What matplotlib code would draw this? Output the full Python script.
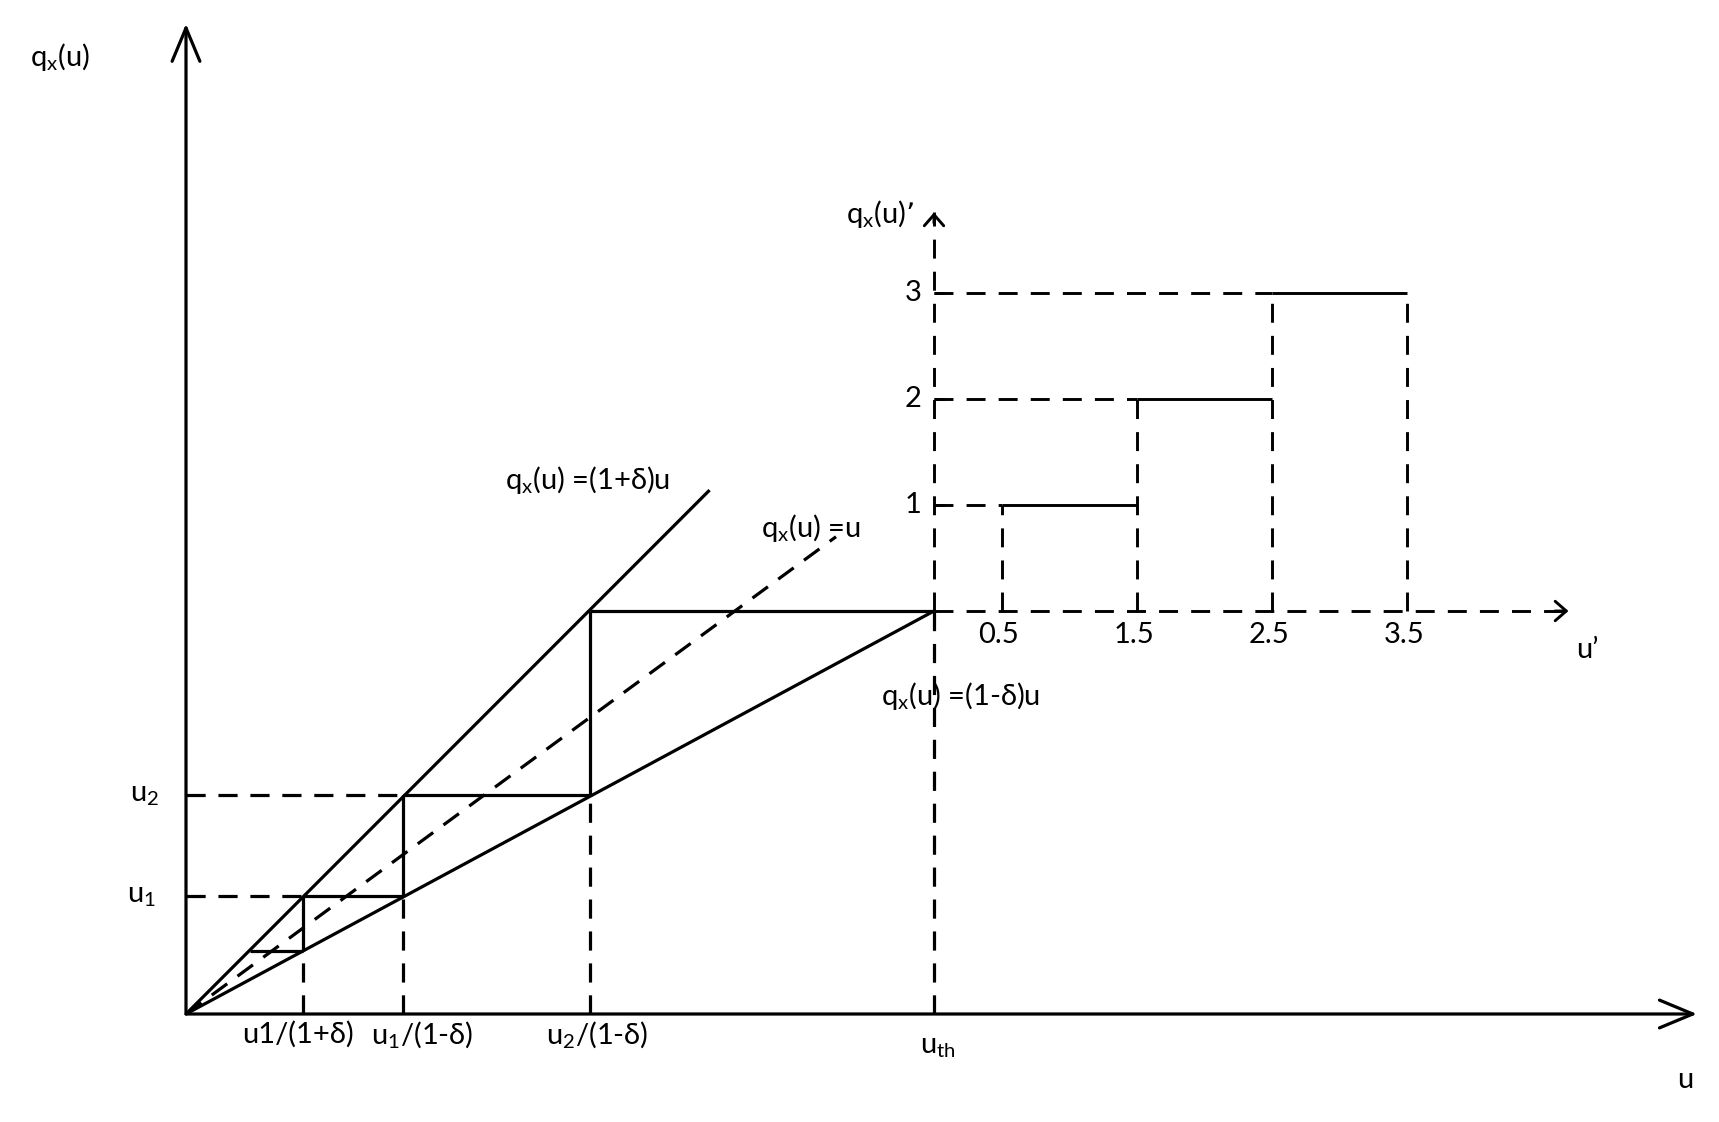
import matplotlib.pyplot as plt
from matplotlib.transforms import Affine2D

plt.rcParams['font.family'] = ['Lato', 'DejaVu Sans']
plt.rcParams['mathtext.default'] = 'regular'

# main diagram values (u on x, q_x(u) on y)
u_th = 1.0
q_top = 0.70
u_levels = [0.11, 0.205, 0.38, 0.70]          # horizontal stair levels
x_upper = [0.085, 0.157, 0.29, 0.54]          # where each level meets (1+d)u
x_lower = [0.157, 0.29, 0.54, 1.0]            # where each level meets (1-d)u
upper_end = (0.70, 0.91)
ident_end = (0.869, 0.829)
axis_end = (2.02, 1.72)

# inset step function q_x(u)'
step_lo = [0.5, 1.5, 2.5]
step_hi = [1.5, 2.5, 3.5]
step_val = [1, 2, 3]
inset_ticks = ['0.5', '1.5', '2.5', '3.5']
inset_tick_pos = [0.5, 1.5, 2.5, 3.5]
inset_axis_end = (4.70, 3.76)

fig = plt.figure(figsize=(17.19, 11.22), dpi=100)
ax = fig.add_axes([0, 0, 1, 1])
ax.set_xlim(-186 / 748, (1719 - 186) / 748)
ax.set_ylim(-(1122 - 1014) / 575.7, 1014 / 575.7)
ax.axis('off')

lw = 2.3
dash = (0, (6, 4))
solid = dict(color='black', lw=lw, solid_capstyle='butt')
dashed = dict(color='black', lw=lw, linestyle=dash)
fs = 21

# main axes with open arrow heads
head = '->,head_length=24,head_width=10'
ax.annotate('', xy=(axis_end[0], 0), xytext=(0, 0),
            arrowprops=dict(arrowstyle=head, lw=lw, color='black',
                            mutation_scale=1, shrinkA=0, shrinkB=0))
ax.annotate('', xy=(0, axis_end[1]), xytext=(0, 0),
            arrowprops=dict(arrowstyle=head, lw=lw, color='black',
                            mutation_scale=1, shrinkA=0, shrinkB=0))

# bounding lines
ax.plot([0, upper_end[0]], [0, upper_end[1]], **solid)
ax.plot([0, u_th], [0, q_top], **solid)
ax.plot([0, ident_end[0]], [0, ident_end[1]], **dashed)

# staircase between the two lines
for i, q in enumerate(u_levels):
    ax.plot([x_upper[i], x_lower[i]], [q, q], **solid)
    if i > 0:
        ax.plot([x_upper[i], x_upper[i]], [u_levels[i - 1], q], **solid)

# projection guides
ax.plot([0, x_upper[2]], [u_levels[2], u_levels[2]], **dashed)
ax.plot([0, x_upper[1]], [u_levels[1], u_levels[1]], **dashed)
for i in range(3):
    ax.plot([x_lower[i], x_lower[i]], [0, u_levels[i]], **dashed)
ax.plot([u_th, u_th], [0, q_top], **dashed)

# labels of main diagram
ax.text(-0.168, 1.662, r'q$_{x}$(u)', fontsize=fs, ha='center', va='center')
ax.text(-0.055, u_levels[2], r'u$_{2}$', fontsize=fs, ha='center', va='center')
ax.text(-0.059, u_levels[1], r'u$_{1}$', fontsize=fs, ha='center', va='center')
ax.text(0.150, -0.035, 'u1/(1+δ)', fontsize=fs, ha='center', va='center')
ax.text(0.316, -0.035, r'u$_{1}$/(1-δ)', fontsize=fs, ha='center', va='center')
ax.text(0.550, -0.035, r'u$_{2}$/(1-δ)', fontsize=fs, ha='center', va='center')
ax.text(u_th + 0.005, -0.057, r'u$_{th}$', fontsize=fs, ha='center', va='center')
ax.text(2.004, -0.115, 'u', fontsize=fs, ha='center', va='center')
ax.text(0.537, 0.928, r'q$_{x}$(u) =(1+δ)u', fontsize=fs, ha='center', va='center')
ax.text(0.836, 0.844, r'q$_{x}$(u) =u', fontsize=fs, ha='center', va='center')
ax.text(1.035, 0.552, r'q$_{x}$(u) =(1-δ)u', fontsize=fs, ha='center', va='center')

# inset coordinate system, origin at (u_th, q_top)
tin = Affine2D().scale(135 / 748, 106 / 575.7).translate(u_th, q_top) + ax.transData
lw2 = 2.1
sol2 = dict(color='black', lw=lw2, transform=tin, solid_capstyle='butt')
dsh2 = dict(color='black', lw=lw2, linestyle=(0, (6.5, 4.5)), transform=tin)
small_head = dict(arrowstyle='->,head_length=8,head_width=7', lw=lw2, color='black',
                  mutation_scale=1, shrinkA=0, shrinkB=0)

ax.plot([0, inset_axis_end[0]], [0, 0], **dsh2)
ax.plot([0, 0], [0, inset_axis_end[1]], **dsh2)
ax.annotate('', xy=(inset_axis_end[0], 0), xytext=(inset_axis_end[0] - 0.1, 0),
            xycoords=tin, textcoords=tin, arrowprops=small_head)
ax.annotate('', xy=(0, inset_axis_end[1]), xytext=(0, inset_axis_end[1] - 0.1),
            xycoords=tin, textcoords=tin, arrowprops=small_head)

for lo, hi, v in zip(step_lo, step_hi, step_val):
    ax.plot([lo, hi], [v, v], **sol2)
    ax.plot([0, lo], [v, v], **dsh2)
    ax.plot([lo, lo], [0, v], **dsh2)
    ax.plot([0, 0.08], [v, v], **sol2)
    ax.annotate(str(v), xy=(0, v), xycoords=tin, xytext=(-9, 0),
                textcoords='offset points', fontsize=fs, ha='right', va='center')
ax.plot([step_hi[-1], step_hi[-1]], [0, step_val[-1]], **dsh2)

for p, t in zip(inset_tick_pos, inset_ticks):
    ax.annotate(t, xy=(p, 0), xycoords=tin, xytext=(-2, -17),
                textcoords='offset points', fontsize=fs, ha='center', va='center')

ax.text(4.84, -0.37, 'u’', fontsize=fs, ha='center', va='center', transform=tin)
ax.text(-0.40, 3.75, r'q$_{x}$(u)’', fontsize=fs, ha='center', va='center', transform=tin)

fig.savefig('out.png', dpi=100)
